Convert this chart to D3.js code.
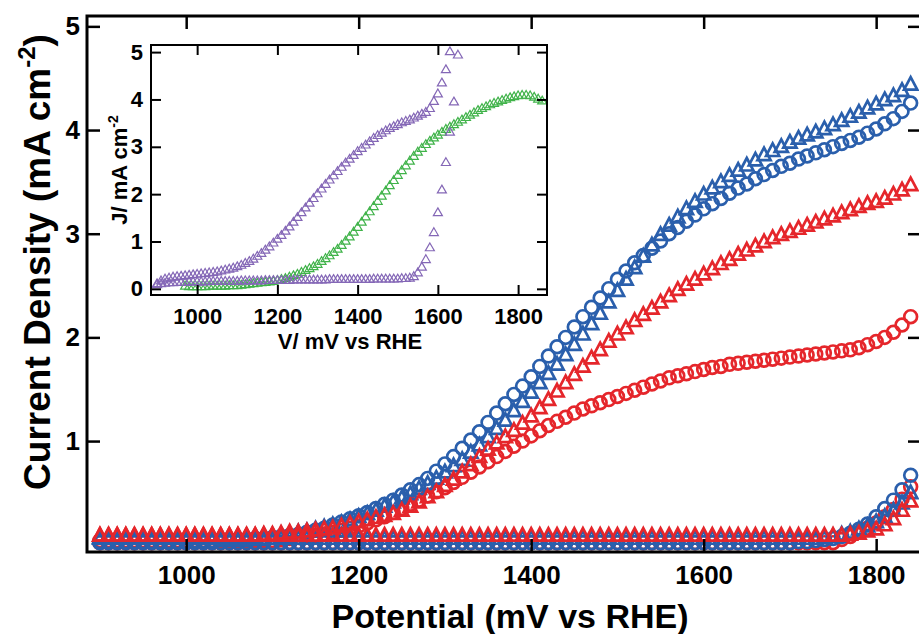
<!DOCTYPE html>
<html>
<head>
<meta charset="utf-8">
<script src="https://cdn.jsdelivr.net/npm/d3@7"></script>
<style>
  html, body { margin: 0; padding: 0; background: #fff; }
  svg { display: block; }
  text { font-family: "Liberation Sans", Arial, Helvetica, sans-serif; font-weight: bold; fill: #000; }
</style>
</head>
<body>
<svg id="chart" width="919" height="634"></svg>
<script>
// Potential grid of the sweeps (mV vs RHE), 10 mV steps
const potential = [
  900, 910, 920, 930, 940, 950, 960, 970, 980, 990,
  1000, 1010, 1020, 1030, 1040, 1050, 1060, 1070, 1080, 1090,
  1100, 1110, 1120, 1130, 1140, 1150, 1160, 1170, 1180, 1190,
  1200, 1210, 1220, 1230, 1240, 1250, 1260, 1270, 1280, 1290,
  1300, 1310, 1320, 1330, 1340, 1350, 1360, 1370, 1380, 1390,
  1400, 1410, 1420, 1430, 1440, 1450, 1460, 1470, 1480, 1490,
  1500, 1510, 1520, 1530, 1540, 1550, 1560, 1570, 1580, 1590,
  1600, 1610, 1620, 1630, 1640, 1650, 1660, 1670, 1680, 1690,
  1700, 1710, 1720, 1730, 1740, 1750, 1760, 1770, 1780, 1790,
  1800, 1810, 1820, 1830, 1840, 1850, 1860
];
const mainPotential = potential.slice(0, 95);          // 900 – 1840 mV

// Main panel: current density (mA cm^-2), forward (dark) and reverse (illuminated) branches
const blueCircleForward = [
  0.02,0.02,0.02,0.02,0.02,0.02,0.02,0.02,0.02,0.02,
  0.02,0.02,0.02,0.02,0.02,0.02,0.02,0.02,0.02,0.02,
  0.02,0.02,0.02,0.02,0.02,0.02,0.02,0.02,0.02,0.02,
  0.02,0.02,0.02,0.02,0.02,0.02,0.02,0.02,0.02,0.02,
  0.02,0.02,0.02,0.02,0.02,0.02,0.02,0.02,0.02,0.02,
  0.02,0.02,0.02,0.02,0.02,0.02,0.02,0.02,0.02,0.02,
  0.02,0.02,0.02,0.02,0.02,0.02,0.02,0.02,0.02,0.02,
  0.02,0.02,0.02,0.02,0.02,0.02,0.02,0.02,0.02,0.02,
  0.02,0.03,0.03,0.04,0.05,0.06,0.08,0.11,0.15,0.20,
  0.27,0.35,0.43,0.53,0.67
];
const blueCircleReverse = [
  0.03,0.03,0.03,0.03,0.03,0.03,0.03,0.03,0.03,0.03,
  0.03,0.04,0.04,0.04,0.05,0.05,0.05,0.05,0.06,0.06,
  0.07,0.08,0.09,0.10,0.12,0.14,0.16,0.19,0.22,0.25,
  0.28,0.31,0.35,0.39,0.43,0.48,0.53,0.58,0.64,0.71,
  0.78,0.85,0.93,1.01,1.09,1.18,1.27,1.36,1.45,1.53,
  1.62,1.72,1.82,1.91,2.00,2.10,2.20,2.29,2.38,2.47,
  2.56,2.64,2.72,2.79,2.86,2.93,3.00,3.06,3.12,3.18,
  3.24,3.29,3.34,3.39,3.44,3.48,3.53,3.57,3.61,3.65,
  3.68,3.72,3.75,3.78,3.81,3.84,3.87,3.90,3.93,3.97,
  4.01,4.06,4.11,4.18,4.26
];
const blueTriangleForward = [
  0.05,0.05,0.05,0.05,0.05,0.05,0.05,0.05,0.05,0.05,
  0.05,0.05,0.05,0.05,0.05,0.05,0.05,0.05,0.05,0.05,
  0.05,0.05,0.05,0.05,0.05,0.05,0.05,0.05,0.05,0.05,
  0.05,0.05,0.05,0.05,0.05,0.05,0.05,0.05,0.05,0.05,
  0.05,0.05,0.05,0.05,0.05,0.05,0.05,0.05,0.05,0.05,
  0.05,0.05,0.05,0.05,0.05,0.05,0.05,0.05,0.05,0.05,
  0.05,0.05,0.05,0.05,0.05,0.05,0.05,0.05,0.05,0.05,
  0.05,0.05,0.05,0.05,0.05,0.05,0.05,0.05,0.05,0.05,
  0.05,0.05,0.05,0.05,0.06,0.07,0.09,0.11,0.14,0.17,
  0.21,0.26,0.32,0.39,0.49
];
const blueTriangleReverse = [
  0.06,0.06,0.06,0.06,0.06,0.06,0.06,0.06,0.06,0.06,
  0.06,0.06,0.06,0.06,0.06,0.07,0.07,0.07,0.07,0.08,
  0.08,0.09,0.10,0.11,0.12,0.14,0.16,0.18,0.20,0.23,
  0.26,0.29,0.32,0.36,0.40,0.44,0.48,0.53,0.58,0.63,
  0.69,0.75,0.81,0.88,0.95,1.03,1.11,1.19,1.28,1.37,
  1.46,1.55,1.64,1.73,1.82,1.92,2.02,2.12,2.22,2.33,
  2.44,2.55,2.66,2.77,2.88,2.98,3.07,3.15,3.23,3.30,
  3.37,3.43,3.49,3.55,3.60,3.65,3.70,3.75,3.79,3.83,
  3.87,3.91,3.94,3.97,4.00,4.04,4.08,4.12,4.16,4.20,
  4.24,4.28,4.32,4.37,4.43
];
const redCircleForward = [
  0.02,0.02,0.02,0.02,0.02,0.02,0.02,0.02,0.02,0.02,
  0.02,0.02,0.02,0.02,0.02,0.02,0.02,0.02,0.02,0.02,
  0.02,0.02,0.02,0.02,0.02,0.02,0.02,0.02,0.02,0.02,
  0.02,0.02,0.02,0.02,0.02,0.02,0.02,0.02,0.02,0.02,
  0.02,0.02,0.02,0.02,0.02,0.02,0.02,0.02,0.02,0.02,
  0.02,0.02,0.02,0.02,0.02,0.02,0.02,0.02,0.02,0.02,
  0.02,0.02,0.02,0.02,0.02,0.02,0.02,0.02,0.02,0.02,
  0.02,0.02,0.02,0.02,0.02,0.02,0.02,0.02,0.02,0.02,
  0.02,0.02,0.02,0.02,0.02,0.02,0.05,0.08,0.12,0.16,
  0.21,0.27,0.34,0.44,0.56
];
const redCircleReverse = [
  0.04,0.04,0.04,0.04,0.04,0.04,0.04,0.04,0.04,0.04,
  0.04,0.04,0.04,0.04,0.04,0.04,0.04,0.04,0.04,0.04,
  0.04,0.05,0.06,0.07,0.08,0.09,0.10,0.12,0.14,0.16,
  0.18,0.21,0.24,0.27,0.31,0.35,0.39,0.43,0.47,0.51,
  0.55,0.60,0.65,0.70,0.75,0.80,0.85,0.90,0.95,1.00,
  1.05,1.10,1.15,1.19,1.23,1.27,1.31,1.34,1.37,1.40,
  1.43,1.46,1.49,1.52,1.55,1.58,1.61,1.63,1.65,1.67,
  1.69,1.71,1.72,1.74,1.75,1.76,1.77,1.78,1.79,1.80,
  1.81,1.82,1.83,1.84,1.85,1.86,1.87,1.88,1.90,1.93,
  1.96,2.00,2.05,2.12,2.20
];
const redTriangleForward = [
  0.08,0.08,0.08,0.08,0.08,0.08,0.08,0.08,0.08,0.08,
  0.08,0.08,0.08,0.08,0.08,0.08,0.08,0.08,0.08,0.08,
  0.08,0.08,0.08,0.08,0.08,0.08,0.08,0.08,0.08,0.08,
  0.08,0.08,0.08,0.08,0.08,0.08,0.08,0.08,0.08,0.08,
  0.08,0.08,0.08,0.08,0.08,0.08,0.08,0.08,0.08,0.08,
  0.08,0.08,0.08,0.08,0.08,0.08,0.08,0.08,0.08,0.08,
  0.08,0.08,0.08,0.08,0.08,0.08,0.08,0.08,0.08,0.08,
  0.08,0.08,0.08,0.08,0.08,0.08,0.08,0.08,0.08,0.08,
  0.08,0.08,0.08,0.08,0.08,0.08,0.08,0.09,0.10,0.12,
  0.14,0.18,0.24,0.32,0.41
];
const redTriangleReverse = [
  0.08,0.08,0.08,0.08,0.08,0.08,0.08,0.08,0.08,0.08,
  0.08,0.08,0.08,0.08,0.08,0.08,0.08,0.08,0.08,0.09,
  0.09,0.10,0.11,0.11,0.12,0.13,0.14,0.15,0.17,0.19,
  0.21,0.23,0.25,0.27,0.29,0.32,0.36,0.40,0.45,0.50,
  0.56,0.62,0.69,0.76,0.84,0.91,0.97,1.03,1.09,1.16,
  1.23,1.31,1.39,1.47,1.55,1.63,1.71,1.79,1.87,1.95,
  2.02,2.08,2.15,2.21,2.27,2.33,2.39,2.45,2.50,2.55,
  2.60,2.65,2.70,2.74,2.79,2.83,2.87,2.91,2.95,2.98,
  3.01,3.04,3.07,3.10,3.13,3.16,3.19,3.22,3.25,3.28,
  3.30,3.33,3.37,3.41,3.46
];

// Inset: J (mA cm^-2) against V (mV vs RHE)
const violetForwardPotential = potential.slice(0, 76);  // 900 – 1650 mV
const violetForward = [
  0.08,0.10,0.11,0.12,0.12,0.13,0.13,0.13,0.14,0.14,
  0.14,0.14,0.14,0.15,0.15,0.15,0.15,0.15,0.15,0.15,
  0.15,0.16,0.16,0.16,0.16,0.16,0.16,0.17,0.17,0.17,
  0.17,0.17,0.17,0.17,0.18,0.18,0.18,0.18,0.18,0.18,
  0.18,0.18,0.18,0.19,0.19,0.19,0.19,0.19,0.19,0.19,
  0.19,0.19,0.19,0.19,0.20,0.20,0.20,0.20,0.20,0.20,
  0.20,0.21,0.21,0.22,0.25,0.33,0.45,0.61,0.86,1.18,
  1.60,2.08,2.66,3.30,3.94,4.93
];
const violetReversePotential = potential.slice(0, 74);  // 900 – 1630 mV
const violetReverse = [
  0.10,0.16,0.20,0.22,0.24,0.25,0.26,0.27,0.28,0.29,
  0.30,0.31,0.32,0.33,0.34,0.35,0.37,0.39,0.41,0.43,
  0.46,0.49,0.53,0.57,0.62,0.68,0.74,0.81,0.88,0.96,
  1.04,1.12,1.21,1.30,1.40,1.50,1.60,1.70,1.80,1.90,
  2.00,2.10,2.20,2.29,2.38,2.47,2.56,2.65,2.73,2.81,
  2.89,2.96,3.03,3.10,3.17,3.23,3.28,3.33,3.38,3.42,
  3.46,3.50,3.53,3.56,3.60,3.64,3.68,3.72,3.80,3.95,
  4.11,4.34,4.62,5.00
];
const greenPotential = potential.slice(7, 97);          // 970 – 1860 mV
const greenSweep = [
  0.05,0.04,0.04,0.04,0.04,0.04,0.05,0.05,0.05,0.05,
  0.05,0.06,0.06,0.06,0.07,0.08,0.09,0.10,0.11,0.12,
  0.13,0.14,0.15,0.17,0.19,0.21,0.24,0.27,0.30,0.34,
  0.38,0.42,0.46,0.51,0.57,0.63,0.69,0.76,0.83,0.91,
  1.00,1.09,1.19,1.29,1.40,1.51,1.62,1.73,1.84,1.95,
  2.06,2.17,2.28,2.39,2.49,2.59,2.69,2.79,2.88,2.96,
  3.04,3.11,3.18,3.24,3.30,3.36,3.41,3.46,3.51,3.56,
  3.61,3.66,3.71,3.76,3.80,3.84,3.88,3.91,3.94,3.97,
  4.00,4.03,4.05,4.07,4.08,4.08,4.07,4.04,4.00,3.96
];

const mainXTicks = [1000, 1200, 1400, 1600, 1800];
const mainYTicks = [1, 2, 3, 4, 5];
const insetXTicks = [1000, 1200, 1400, 1600, 1800];
const insetYTicks = [0, 1, 2, 3, 4, 5];

const BLUE = "#2a5fac", RED = "#e5262b", VIOLET = "#8467b6", GREEN = "#40b34a";

const svg = d3.select("#chart");

// ---------- main panel ----------
const M = { left: 87, top: 16, right: 921, bottom: 552 };
const x = d3.scaleLinear().domain([885, 1852]).range([M.left, M.right]);
const y = d3.scaleLinear().domain([-0.07, 5.1]).range([M.bottom, M.top]);

svg.append("defs").append("clipPath").attr("id", "mainClip")
  .append("rect").attr("x", M.left).attr("y", M.top)
  .attr("width", M.right - M.left).attr("height", M.bottom - M.top);

const zip = (xs, ys) => xs.map((v, i) => [v, ys[i]]);

// open upward triangle centred on its centroid
const triangleShape = (halfWidth, height) => ({
  draw(context) {
    context.moveTo(0, -height * 2 / 3);
    context.lineTo(halfWidth, height / 3);
    context.lineTo(-halfWidth, height / 3);
    context.closePath();
  }
});

const mainLayer = svg.append("g").attr("clip-path", "url(#mainClip)");
const triBig = d3.symbol().type(triangleShape(6.6, 12.5))();
const triSmall = d3.symbol().type(triangleShape(4.5, 7.8))();

function circles(g, pts, sx, sy, color, r, sw) {
  g.append("g").selectAll("circle").data(pts).join("circle")
    .attr("cx", d => sx(d[0])).attr("cy", d => sy(d[1])).attr("r", r)
    .attr("fill", "none").attr("stroke", color).attr("stroke-width", sw);
}
function triangles(g, pts, sx, sy, color, path, sw) {
  g.append("g").selectAll("path").data(pts).join("path")
    .attr("d", path)
    .attr("transform", d => `translate(${sx(d[0])},${sy(d[1])})`)
    .attr("fill", "none").attr("stroke", color).attr("stroke-width", sw);
}

circles(mainLayer, zip(mainPotential, redCircleForward), x, y, RED, 6.4, 2.7);
circles(mainLayer, zip(mainPotential, redCircleReverse), x, y, RED, 6.4, 2.7);
circles(mainLayer, zip(mainPotential, blueCircleForward), x, y, BLUE, 6.4, 2.7);
circles(mainLayer, zip(mainPotential, blueCircleReverse), x, y, BLUE, 6.4, 2.7);
triangles(mainLayer, zip(mainPotential, blueTriangleForward), x, y, BLUE, triBig, 2.7);
triangles(mainLayer, zip(mainPotential, blueTriangleReverse), x, y, BLUE, triBig, 2.7);
triangles(mainLayer, zip(mainPotential, redTriangleForward), x, y, RED, triBig, 2.7);
triangles(mainLayer, zip(mainPotential, redTriangleReverse), x, y, RED, triBig, 2.7);

// frame and inward ticks
function styleAxis(g, fontSize) {
  g.select(".domain").remove();
  g.selectAll(".tick line").attr("stroke", "#000").attr("stroke-width", 2.5);
  g.selectAll(".tick text").style("font-size", fontSize + "px").attr("fill", "#000");
}
svg.append("g").attr("transform", `translate(0,${M.bottom})`)
  .call(d3.axisBottom(x).tickValues(mainXTicks).tickSize(-13).tickPadding(14).tickFormat(d3.format("d")))
  .call(g => styleAxis(g, 26));
svg.append("g").attr("transform", `translate(0,${M.top})`)
  .call(d3.axisTop(x).tickValues(mainXTicks).tickSize(-13).tickFormat(""))
  .call(g => styleAxis(g, 26));
svg.append("g").attr("transform", `translate(${M.left},0)`)
  .call(d3.axisLeft(y).tickValues(mainYTicks).tickSize(-13).tickPadding(7).tickFormat(d3.format("d")))
  .call(g => styleAxis(g, 26));
svg.append("g").attr("transform", `translate(${M.right},0)`)
  .call(d3.axisRight(y).tickValues(mainYTicks).tickSize(-13).tickFormat(""))
  .call(g => styleAxis(g, 26));
svg.append("rect").attr("x", M.left).attr("y", M.top)
  .attr("width", M.right - M.left).attr("height", M.bottom - M.top)
  .attr("fill", "none").attr("stroke", "#000").attr("stroke-width", 3);

// axis titles
svg.append("text").attr("x", 510).attr("y", 628).attr("text-anchor", "middle")
  .style("font-size", "34px").text("Potential (mV vs RHE)");
const yTitle = svg.append("text").attr("transform", "translate(50,262) rotate(-90)")
  .attr("text-anchor", "middle").style("font-size", "37px");
yTitle.append("tspan").text("Current Density (mA cm");
yTitle.append("tspan").attr("dy", -15).style("font-size", "24px").text("-2");
yTitle.append("tspan").attr("dy", 15).text(")");

// ---------- inset ----------
const I = { left: 151, top: 45, right: 547, bottom: 295 };
const xi = d3.scaleLinear().domain([885, 1872]).range([I.left, I.right]);
const yi = d3.scaleLinear().domain([-0.13, 5.15]).range([I.bottom, I.top]);

svg.append("rect").attr("x", I.left).attr("y", I.top)
  .attr("width", I.right - I.left).attr("height", I.bottom - I.top).attr("fill", "#fff");
svg.select("defs").append("clipPath").attr("id", "insetClip")
  .append("rect").attr("x", I.left).attr("y", I.top)
  .attr("width", I.right - I.left).attr("height", I.bottom - I.top);
const insetLayer = svg.append("g").attr("clip-path", "url(#insetClip)");
triangles(insetLayer, zip(greenPotential, greenSweep), xi, yi, GREEN, triSmall, 1.2);
triangles(insetLayer, zip(violetForwardPotential, violetForward), xi, yi, VIOLET, triSmall, 1.2);
triangles(insetLayer, zip(violetReversePotential, violetReverse), xi, yi, VIOLET, triSmall, 1.2);

function styleInset(g) {
  g.select(".domain").remove();
  g.selectAll(".tick line").attr("stroke", "#000").attr("stroke-width", 2);
  g.selectAll(".tick text").style("font-size", "22px").attr("fill", "#000");
}
svg.append("g").attr("transform", `translate(0,${I.bottom})`)
  .call(d3.axisBottom(xi).tickValues(insetXTicks).tickSize(-10).tickPadding(13).tickFormat(d3.format("d")))
  .call(styleInset);
svg.append("g").attr("transform", `translate(0,${I.top})`)
  .call(d3.axisTop(xi).tickValues(insetXTicks).tickSize(-10).tickFormat(""))
  .call(styleInset);
svg.append("g").attr("transform", `translate(${I.left},0)`)
  .call(d3.axisLeft(yi).tickValues(insetYTicks).tickSize(-10).tickPadding(8).tickFormat(d3.format("d")))
  .call(styleInset);
svg.append("g").attr("transform", `translate(${I.right},0)`)
  .call(d3.axisRight(yi).tickValues(insetYTicks).tickSize(-10).tickFormat(""))
  .call(styleInset);
svg.append("rect").attr("x", I.left).attr("y", I.top)
  .attr("width", I.right - I.left).attr("height", I.bottom - I.top)
  .attr("fill", "none").attr("stroke", "#000").attr("stroke-width", 2);

svg.append("text").attr("x", 350).attr("y", 349).attr("text-anchor", "middle")
  .style("font-size", "22px").text("V/ mV vs RHE");
const yiTitle = svg.append("text").attr("transform", "translate(127,170) rotate(-90)")
  .attr("text-anchor", "middle").style("font-size", "22px");
yiTitle.append("tspan").text("J/ mA cm");
yiTitle.append("tspan").attr("dy", -9).style("font-size", "14px").text("-2");
</script>
</body>
</html>
